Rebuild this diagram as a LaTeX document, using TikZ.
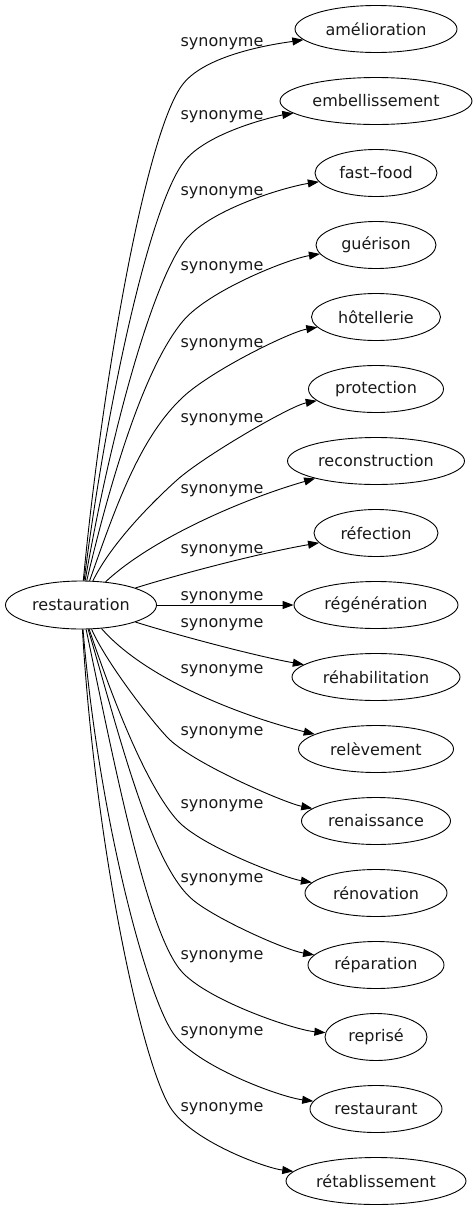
\documentclass[tikz,border=0pt]{standalone}
\usepackage{fontspec}
\setmainfont{DejaVu Sans}
\usetikzlibrary{shapes.geometric,arrows.meta}
\begin{document}
\begin{tikzpicture}[x=1pt,y=-1pt,
  word/.style={ellipse, draw, line width=0.9pt, inner sep=0pt, minimum height=47pt,
    font=\fontsize{16}{19}\selectfont, text=black!90},
  lab/.style={anchor=base, inner sep=0pt, font=\fontsize{16}{19}\selectfont, text=black!90},
  syn/.style={draw, line width=0.9pt, -{Triangle[length=11pt,width=8pt]}}]
\useasboundingbox (0,0) rectangle (476,1211);

\node[word, minimum width=151pt, minimum height=48pt] (s) at (81,605) {restauration};
\node[word, minimum width=162pt] (t1) at (376,29) {amélioration};
\node[word, minimum width=192pt] (t2) at (376,101) {embellissement};
\node[word, minimum width=122pt] (t3) at (376,173) {fast–food};
\node[word, minimum width=120pt] (t4) at (376,245) {guérison};
\node[word, minimum width=129pt] (t5) at (376,317) {hôtellerie};
\node[word, minimum width=135pt] (t6) at (376,389) {protection};
\node[word, minimum width=177pt] (t7) at (376,461) {reconstruction};
\node[word, minimum width=124pt] (t8) at (376,533) {réfection};
\node[word, minimum width=164pt] (t9) at (376,605) {régénération};
\node[word, minimum width=168pt] (t10) at (376,677) {réhabilitation};
\node[word, minimum width=155pt] (t11) at (376,749) {relèvement};
\node[word, minimum width=149pt] (t12) at (376,821) {renaissance};
\node[word, minimum width=142pt] (t13) at (376,893) {rénovation};
\node[word, minimum width=136pt] (t14) at (376,965) {réparation};
\node[word, minimum width=102pt] (t15) at (376,1037) {reprisé};
\node[word, minimum width=132pt] (t16) at (376,1109) {restaurant};
\node[word, minimum width=180pt] (t17) at (376,1181) {rétablissement};

\path[syn] (s) .. controls (102,383) and (146,131) .. (183,84) .. controls (207.6,52.5) and (282,43) .. (t1);
\path[syn] (s) .. controls (105,415) and (147.7,211.5) .. (183,163) .. controls (206.5,130.6) and (282,115) .. (t2);
\path[syn] (s) .. controls (108,447) and (148.6,292) .. (183,243) .. controls (206,210.2) and (285,187) .. (t3);
\path[syn] (s) .. controls (111,478) and (144.4,367) .. (183,321) .. controls (208.7,290.4) and (288,259) .. (t4);
\path[syn] (s) .. controls (115,509) and (139,438) .. (183,397) .. controls (212,370) and (290,332) .. (t5);
\path[syn] (s) .. controls (112,542) and (154.7,500) .. (177,480) .. controls (203,456.6) and (290,406) .. (t6);
\path[syn] (s) .. controls (150,540) and (240,500) .. (t7);
\path[syn] (s) .. controls (180,574) and (260,553) .. (t8);
\path[syn] (s) -- (t9);
\path[syn] (s) .. controls (180,636) and (260,657) .. (t10);
\path[syn] (s) .. controls (149,683) and (254,719.5) .. (t11);
\path[syn] (s) .. controls (105,660) and (146.6,715) .. (167,737) .. controls (190.8,762.6) and (285,803) .. (t12);
\path[syn] (s) .. controls (115,706) and (147,786) .. (177,820) .. controls (200,846) and (285,878) .. (t13);
\path[syn] (s) .. controls (120,737) and (151,865) .. (193,900) .. controls (216,919) and (285,950) .. (t14);
\path[syn] (s) .. controls (115,767) and (148,937) .. (183,973) .. controls (210.8,1001.8) and (295,1030) .. (t15);
\path[syn] (s) .. controls (98,811) and (145,991.5) .. (173,1033) .. controls (195.4,1066) and (280,1097) .. (t16);
\path[syn] (s) .. controls (95,844) and (141,1060) .. (170,1107) .. controls (191,1141) and (265,1168) .. (t17);

\foreach \yb [count=\i] in {46,119,195,270,347,422,493,553,600,627,673,735,808,882,959,1035,1111}
  \node[lab] (l\i) at (222,\yb) {synonyme};
\end{tikzpicture}
\end{document}
